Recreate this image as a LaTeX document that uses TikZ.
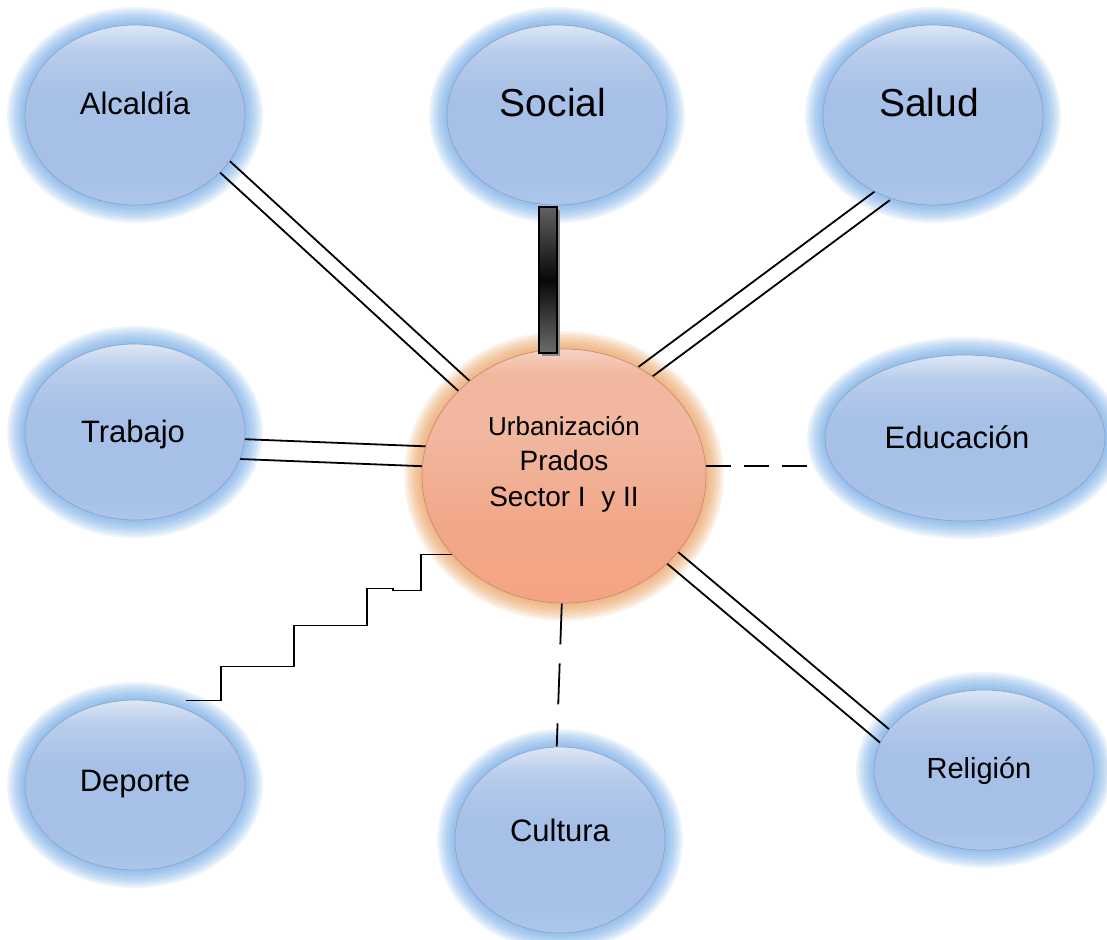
\documentclass[tikz,border=0pt]{standalone}
\usepackage{fontspec}
\setmainfont{Liberation Sans}
\usetikzlibrary{shapes.geometric,calc}

\pgfdeclarelayer{paper}
\pgfdeclarelayer{glow}
\pgfdeclarelayer{links}
\pgfsetlayers{paper,glow,links,main}

% bubble colours
\definecolor{bubA}{HTML}{DDE7F5}
\definecolor{bubB}{HTML}{B9CDEC}
\definecolor{bubC}{HTML}{A6C0E7}
\definecolor{bubD}{HTML}{ADC7EC}
\definecolor{bubEdge}{HTML}{8EA4C6}
\definecolor{bubGlow}{HTML}{6AA6E8}
% hub colours
\definecolor{urbA}{HTML}{F6D2C2}
\definecolor{urbB}{HTML}{F1B79F}
\definecolor{urbC}{HTML}{F2A788}
\definecolor{urbD}{HTML}{F4A483}
\definecolor{urbEdge}{HTML}{C98C70}
\definecolor{urbGlow}{HTML}{EC9A55}

\pgfdeclareverticalshading{bubshade}{100bp}{color(0bp)=(bubD); color(25bp)=(bubD); color(32bp)=(bubC); color(55bp)=(bubC); color(68bp)=(bubB); color(75bp)=(bubA); color(100bp)=(bubA)}
\pgfdeclareverticalshading{urbshade}{100bp}{color(0bp)=(urbD); color(25bp)=(urbD); color(40bp)=(urbC); color(58bp)=(urbB); color(70bp)=(urbB); color(75bp)=(urbA); color(100bp)=(urbA)}

% soft halo of concentric translucent ellipses round a node
\newcommand\halo[4]{%
  \foreach \k in {1,...,9}{%
    \fill[#4,opacity=0.115] (#1.center) ellipse [x radius={#2pt+2pt*\k}, y radius={#3pt+2pt*\k}];}}

% two parallel strokes between two anchors
\newcommand\twin[3]{%
  \draw[link,shorten <=-3pt,shorten >=-3pt] ($(#1)!#3!90:(#2)$) -- ($(#2)!#3!-90:(#1)$);
  \draw[link,shorten <=-3pt,shorten >=-3pt] ($(#1)!#3!-90:(#2)$) -- ($(#2)!#3!90:(#1)$);}

\begin{document}
\begin{tikzpicture}[x=1pt,y=-1pt,
  bubble/.style={ellipse, draw=bubEdge, line width=0.7pt, shade, shading=bubshade, inner sep=0pt},
  hub/.style={ellipse, draw=urbEdge, line width=0.7pt, shade, shading=urbshade, inner sep=0pt},
  lbl/.style={font=\fontsize{#1}{#1}\selectfont, inner sep=0pt, text=black},
  link/.style={draw=black, line width=1.8pt},
]
\useasboundingbox (0,0) rectangle (1107,939);

% nodes
\node[hub, minimum width=284pt, minimum height=254pt,
  label={[font=\fontsize{28}{35.5}\selectfont, inner sep=0pt, align=center, yshift=12pt]center:{\fontsize{26}{35.5}\selectfont Urbanización}\\Prados\\Sector I\ \ y II}] (urb) at (564,476) {};

\node[bubble, minimum width=220pt, minimum height=180pt,
  label={[lbl=31, yshift=12pt]center:Alcaldía}] (alc) at (135,115) {};
\node[bubble, minimum width=220pt, minimum height=180pt,
  label={[lbl=39, xshift=-4pt, yshift=12pt]center:Social}] (soc) at (557,115) {};
\node[bubble, minimum width=220pt, minimum height=180pt,
  label={[lbl=39, xshift=-4pt, yshift=12pt]center:Salud}] (sal) at (933,115) {};
\node[bubble, minimum width=220pt, minimum height=176pt,
  label={[lbl=31, xshift=-2pt, yshift=-2pt]center:Trabajo}] (tra) at (135,432) {};
\node[bubble, minimum width=280pt, minimum height=166pt,
  label={[lbl=31, xshift=-8pt, yshift=1pt]center:Educación}] (edu) at (965,438) {};
\node[bubble, minimum width=220pt, minimum height=170pt,
  label={[lbl=31, yshift=1pt]center:Deporte}] (dep) at (135,785) {};
\node[bubble, minimum width=210pt, minimum height=186pt,
  label={[lbl=31, yshift=10pt]center:Cultura}] (cul) at (560,840) {};
\node[bubble, minimum width=220pt, minimum height=160pt,
  label={[lbl=29, xshift=-5pt, yshift=-1pt]center:Religión}] (rel) at (984,770) {};

% paper and halos
\begin{pgfonlayer}{paper}
  \fill[white] (0,0) rectangle (1107,939);
\end{pgfonlayer}
\begin{pgfonlayer}{glow}
  \halo{alc}{110}{90}{bubGlow}
  \halo{soc}{110}{90}{bubGlow}
  \halo{sal}{110}{90}{bubGlow}
  \halo{tra}{110}{88}{bubGlow}
  \halo{edu}{140}{83}{bubGlow}
  \halo{dep}{110}{85}{bubGlow}
  \halo{cul}{105}{93}{bubGlow}
  \halo{rel}{110}{80}{bubGlow}
  \halo{urb}{142}{127}{urbGlow}
\end{pgfonlayer}

% connectors
\begin{pgfonlayer}{links}
  \twin{alc.-30}{urb.138}{7.5pt}
  \twin{sal.-122}{urb.52}{8pt}
  \twin{tra.-9}{urb.172}{10pt}
  \twin{urb.-37}{rel.161}{8pt}
  \draw[link, dash pattern=on 25pt off 13pt] (urb.4.5) -- ($(urb.4.5 -| edu.west)+(-17,0)$);
  \draw[link, dash pattern=on 41pt off 19pt] (urb.-91) -- (cul.92);
  \draw[link] (urb.-145) -- ++(-31,0) -- ++(0,36) -- ++(-28,0) -- ++(0,-2) -- ++(-26,0)
    -- ++(0,37) -- ++(-73,0) -- ++(0,41) -- ++(-73,0) -- ++(0,34) -- ++(-35,0);
\end{pgfonlayer}

% heavy bar between Social and the hub
\fill[black!45] ([xshift=-15pt,yshift=-5pt]soc.south) rectangle ([xshift=-4pt,yshift=-7pt]urb.north);
\shade[top color=black!62, bottom color=black!58, middle color=black!97, draw=black, line width=2pt]
  ([xshift=-18pt,yshift=-2pt]soc.south) rectangle ([xshift=-7pt,yshift=-4pt]urb.north);
\end{tikzpicture}
\end{document}
